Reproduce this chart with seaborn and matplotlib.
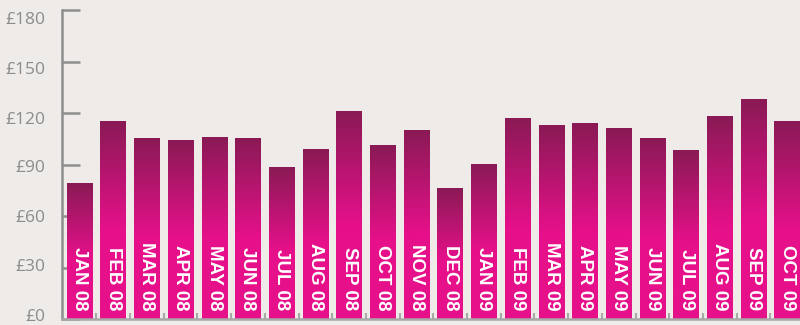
import matplotlib
matplotlib.use("Agg")
import matplotlib.pyplot as plt
import matplotlib.transforms as mtransforms
import seaborn as sns
import numpy as np
import pandas as pd
from matplotlib.colors import to_rgb

months = ["JAN 08", "FEB 08", "MAR 08", "APR 08", "MAY 08", "JUN 08", "JUL 08",
          "AUG 08", "SEP 08", "OCT 08", "NOV 08", "DEC 08", "JAN 09", "FEB 09",
          "MAR 09", "APR 09", "MAY 09", "JUN 09", "JUL 09", "AUG 09", "SEP 09", "OCT 09"]
values = [79, 115, 105, 104, 106, 105, 88, 99, 121, 101, 110, 76,
          90, 117, 113, 114, 111, 105, 98, 118, 128, 115]
yticks = [0, 30, 60, 90, 120, 150, 180]
ytick_labels = ["£0", "£30", "£60", "£90", "£120", "£150", "£180"]

bg = "#eeebe9"
pink = "#e6108a"
dark = "#8a1a55"
axis_col = "#8e8e8e"

sns.set_theme(style="white")
plt.rcParams['font.family'] = ['Open Sans', 'DejaVu Sans']

fig = plt.figure(figsize=(8, 3.25), dpi=100)
fig.patch.set_facecolor(bg)
ax = fig.add_axes([62 / 800, 6 / 325, 1 - 62 / 800, 309 / 325])
ax.set_facecolor(bg)

df = pd.DataFrame({"month": months, "value": values})
sns.barplot(data=df, x="month", y="value", ax=ax, width=0.755,
            color=pink, saturation=1)

# gradient fill for each bar
c_top = np.array(to_rgb(dark))
c_bot = np.array(to_rgb(pink))
N = 200
t = np.linspace(0, 1, N)
frac = np.clip(t / 0.55, 0, 1)[:, None]
grad = (c_top * (1 - frac) + c_bot * frac)[:, None, :]
for p in ax.patches:
    x0 = p.get_x()
    w = p.get_width()
    h = p.get_height()
    ax.imshow(grad, extent=(x0, x0 + w, 0, h), aspect='auto',
              origin='upper', zorder=2, interpolation='bilinear')
    p.set_visible(False)

for i, m in enumerate(months):
    ax.text(i, 5, m, rotation=-90, ha='center', va='bottom', color='white',
            fontweight='bold', fontsize=13.5, family=['Liberation Sans'],
            zorder=3)

ax.set_xlim(-0.519, 21.38)
ax.set_ylim(0, 180)
ax.set_yticks(yticks)
ax.set_yticklabels(ytick_labels)
ax.set_xticks([])
ax.set_xticks(np.arange(len(months) - 1) + 0.5, minor=True)
ax.set_xlabel("")
ax.set_ylabel("")

for s in ["top", "right"]:
    ax.spines[s].set_visible(False)
ax.spines["left"].set_color(axis_col)
ax.spines["left"].set_linewidth(1.8)
ax.spines["bottom"].set_color("#a8a8a8")
ax.spines["bottom"].set_linewidth(1.8)

ax.tick_params(axis='y', left=True, direction='in', length=13, width=1.8,
               color=axis_col, pad=12, labelsize=12.5, labelcolor="#8c8c8c")
ax.tick_params(axis='x', which='minor', bottom=True, direction='in',
               length=4.5, width=1.5, color="#a8a8a8")

# label offsets (pixels, positive = down) to match reference placement
label_shift_px = [-4, -2.5, 0.5, 1.5, 4.7, 6.8, 8.5]
for lab, off in zip(ax.get_yticklabels(), label_shift_px):
    lab.set_transform(lab.get_transform() +
                      mtransforms.ScaledTranslation(0, -off / 100, fig.dpi_scale_trans))

fig.savefig("out.png", dpi=100, facecolor=bg)
